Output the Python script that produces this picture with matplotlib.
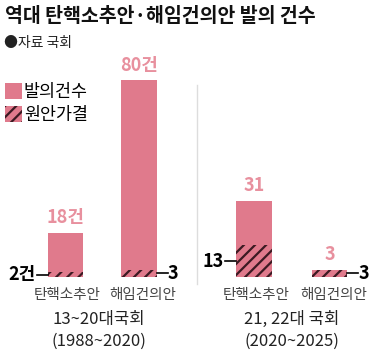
import matplotlib
matplotlib.use("Agg")
import matplotlib.pyplot as plt
from matplotlib.patches import Patch

plt.rcParams['font.family'] = ['Noto Sans CJK KR', 'DejaVu Sans']
plt.rcParams['hatch.linewidth'] = 1.6

# Data
categories = ['탄핵소추안', '해임건의안', '탄핵소추안', '해임건의안']
groups = ['13~20대국회\n(1988~2020)', '21, 22대 국회\n(2020~2025)']
proposed = [18, 80, 31, 3]
passed = [2, 3, 13, 3]
proposed_labels = ['18건', '80건', '31', '3']
passed_labels = ['2건', '3', '13', '3']
passed_side = ['left', 'right', 'left', 'right']

PINK = '#E07A8C'
LABEL_PINK = '#E8909E'
HATCH = '#3c1a22'

W, H = 375, 357
fig = plt.figure(figsize=(W / 100, H / 100), dpi=100)
ax = fig.add_axes([0, 80 / H, 1, 246 / H])
ax.set_xlim(0, W)
ax.set_ylim(0, 100)
ax.axis('off')

xs = [65.5, 139, 254, 329.5]
bw = 35.5

ax.bar(xs, proposed, width=bw, color=PINK, linewidth=0)
ax.bar(xs, passed, width=bw, color=PINK, edgecolor=HATCH, hatch='///', linewidth=0)

for x, v, lab in zip(xs, proposed, proposed_labels):
    ax.annotate(lab, (x, v), xytext=(0, 4), textcoords='offset points',
                ha='center', va='bottom', fontsize=13, fontweight='bold', color=LABEL_PINK)

for x, v, lab, side in zip(xs, passed, passed_labels, passed_side):
    y = v / 2
    if side == 'left':
        x0 = x - bw / 2
        ax.plot([x0 - 11, x0], [y, y], color='black', lw=1.2)
        ax.text(x0 - 12, y, lab, ha='right', va='center', fontsize=13, fontweight='bold', color='black')
    else:
        x0 = x + bw / 2
        ax.plot([x0, x0 + 11], [y, y], color='black', lw=1.2)
        ax.text(x0 + 11, y, lab, ha='left', va='center', fontsize=13, fontweight='bold', color='black')

# divider
ax.plot([197, 197], [-3, 78], color='#dddddd', lw=1, clip_on=False)

# category labels
for i, (x, c) in enumerate(zip(xs, categories)):
    dx = 1.5 if i % 2 == 0 else 3
    ax.annotate(c, (x, 0), xytext=(dx, -13), textcoords='offset points',
                ha='center', va='center', fontsize=10.5, color='#444444', style='italic')

for gx, g in zip([99, 292], groups):
    ax.text(gx, -13.8, g, ha='center', va='top', fontsize=12, color='#222222', linespacing=1.4)

fig.text(5 / W, 1 - 17 / H, '역대 탄핵소추안·해임건의안 발의 건수', ha='left', va='center',
         fontsize=14, fontweight='bold', color='#111111')
fig.text(4 / W, 1 - 43 / H, '●자료 국회', ha='left', va='center', fontsize=10, color='#222222')

handles = [Patch(facecolor=PINK, linewidth=0, label='발의건수'),
           Patch(facecolor=PINK, edgecolor=HATCH, hatch='///', linewidth=0, label='원안가결')]
fig.legend(handles=handles, loc='upper left', bbox_to_anchor=(3 / W, 1 - 81 / H),
           frameon=False, handlelength=1.0, handleheight=1.0, handletextpad=0.1,
           labelspacing=0.3, fontsize=12.5, borderaxespad=0, borderpad=0.1)

fig.savefig('out.png', dpi=100, facecolor='white')
